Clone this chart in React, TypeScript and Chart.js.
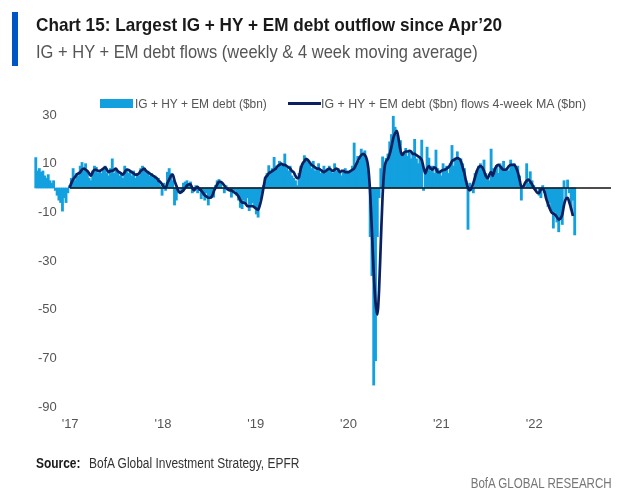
import React, { useEffect, useRef } from "react";
import { Chart, registerables } from "chart.js";

Chart.register(...registerables);

// ---------- DATA ----------
const START_YEAR = 2016.63; // first weekly observation (year fraction)
const WEEK = 7 / 365.25; // one week in years
const MA_START_INDEX = 19; // 4-week MA starts at this week

const yearTicks = [2017, 2018, 2019, 2020, 2021, 2022];
const yTicks = [30, 10, -10, -30, -50, -70, -90];
const zeroLineRange = [2017.0, 2022.83];

const TITLE = "Chart 15: Largest IG + HY + EM debt outflow since Apr’20";
const SUBTITLE = "IG + HY + EM debt flows (weekly & 4 week moving average)";
const BAR_LABEL = "IG + HY + EM debt ($bn)";
const MA_LABEL = "IG + HY + EM debt ($bn) flows 4-week MA ($bn)";
const SOURCE_HEAD = "Source:";
const SOURCE_TEXT = "BofA Global Investment Strategy, EPFR";
const BRAND = "BofA GLOBAL RESEARCH";

// weekly flows ($bn)
const weeklyFlows = [
  // late 2016
  12.5, 7, 8, 6.5, 7, 5, 4, 5.5, 3, 2, 3, -1, -3, -5, -6, -9.5, -4, -6, -2,
  // 2017
  1, 4, 8, 3, 6, 5, 9, 10.5, 7, 10, 6, 4, 3, 7, 9, 8.5, 6, 7, 6, 8, 9, 6, 5, 8, 12, 6, 8, 7, 5, 6, 4, 9, 8, 6,
  7, 5, 7, 4, 6, 5, 8, 9, 8, 6, 7, 5, 6, 4, 5, 3, 4, 1, -3,
  // 2018
  2, -1, 6.5, 8, 6, 3, -7, -5, -2, 0, -2, 2, 2.5, 3, 1, 2.5, -2, 0, 1, -2, -1, -4.4, -3, -5, -2, -7, -4, -2,
  -3.8, 1, 3, 3.5, 2, 0, -2, 1, -1, 0, -3.8, -2, -1, -3,
  -5, -8, -8.5, -5, -6, -4, -9.3, -7, -6, -8, -10.7, -12,
  // 2019
  -5, -2, 1, 4.4, 6, 9.2, 6, 8, 12.6, 9, 8, 11, 9, 10, 14, 8, 7, 9, 5, 4, 3, 1, 6, 9, 10, 13.3, 12, 11, 10, 8,
  11, 7, 8, 10, 6, 7, 9, 6, 8, 9, 7, 6, 10, 7, 8, 6, 5, 7, 8, 6, 7, 6, 9, 18.5, 10, 13, 11, 16, 14, 15.3, 10, 4,
  // 2020
  -20, -36, -81, -71, -20, -4, 8, 12.8, 10, 12.2, 14, 19, 22, 29.5, 25, 21.7, 18, 19.5, 12.8, 14, 16.3, 13,
  15.5, 12, 14, 20, 12, 10, 13, 19.7, -1, 6, 16.8, 12.3, 7, 9, 6, 15.6, 8, 7, 5,
  // 2021
  10, 8, 9, 6, 10, 17.5, 9, 12, 14.9, 11, 12, 10, 8, 3, -17, 2, -1, -2, 6, 7, 9, 10, 8, 11.5, 6, 4, 3, 16, 8,
  5, 9, 6, 10, 9, 11, 7, 8, 7, 11.5, 9, 10, 8, 9, 5, -5, 1, 0, 10, 2, 6.7, 3, 1,
  // 2022
  -1, 0, -3, -4, 1, -2, -3, -7.6, -6, -9, -16.5, -10, -14, -18, -12, -15, 3, -4, 3.3, -2, -9, -5, -19.3,
];

// 4-week moving average ($bn), from week MA_START_INDEX
const movingAverage = [
  // 2017
  0, 2, 3.5, 4.5, 5.5, 6, 6.5, 7.5, 8, 7.5, 7, 6, 5, 6.5, 7.5, 7.5, 7, 7, 7.5, 8, 8.5, 7.5, 6.5, 7, 7, 7.5, 8,
  7, 6.5, 6, 5.5, 6.5, 7.5, 7.5, 7, 6.5, 6, 5.5, 5.5, 6, 7, 7.5, 8, 7, 6.5, 6, 5.5, 5, 4.5, 4, 3, 2.5, 1.5,
  // 2018
  0.5, 0, 2, 3.5, 5, 5.5, 3, 1, -1, -2, -1.5, -1, 0, 1, 1.5, 1.5, 0, -1, 0, 0.5, -0.5, -1, -2, -3, -3.5, -4,
  -4, -3.5, -1.5, 0, 1.5, 2.5, 2.5, 2, 1, 0, -0.5, -1, -1, -1.5, -2, -2.5, -3.5, -5, -6, -6, -6.5, -7.5, -7.5,
  -7.5, -7.5, -8, -8.5, -9,
  // 2019
  -7, -4, 0, 4, 5, 6, 6.5, 7, 7.5, 8, 9, 9.5, 10, 9.5, 9.5, 9, 8.5, 8, 7, 6.5, 5, 4, 4.5, 8, 10, 11, 12, 11.5,
  10.5, 9.5, 9, 8.5, 8, 8, 7.5, 7, 6.5, 7, 7.5, 8, 7.5, 7, 7.5, 8, 7.5, 6.5, 7, 7, 6.5, 6.5, 6.5, 7, 7.5, 8,
  9.5, 11, 12.5, 13.5, 14, 13.5, 12, 8,
  // 2020
  -2, -18, -35, -47, -52, -42, -22, -3, 8, 11, 12, 14, 17, 20.5, 22.5, 23.5, 20, 15.5, 13.5, 14.5, 15, 15,
  15.3, 15, 14, 14, 13.5, 13, 12.5, 11.5, 8.5, 6, 8, 9, 8, 7.5, 8.5, 8, 6.5, 6.5,
  // 2021
  7, 7.4, 7.5, 8, 8.5, 9.5, 11, 11.5, 12, 12.3, 12, 11, 8.5, 6, 2.5, 0, -1, 0, 2, 4.5, 7, 8.5, 9, 8.5, 7, 5,
  4, 5.5, 6.5, 5, 7.5, 9, 9.5, 9, 8, 7.5, 7.5, 8, 9, 9.5, 9.5, 9.5, 8.5, 6.5, 3.5, 0.5, 0.5, 2, 3, 3.5, 2.5,
  1.5,
  // 2022
  0, -1, -2, -2, -0.5, -0.5, -1.5, -4.5, -6.5, -8.5, -10, -10.5, -11, -12, -13, -12.5, -11, -7, -4.5, -4, -6,
  -8.5, -11.5,
];

// ---------- STYLE ----------
const FONT = '"Liberation Sans", Arial, sans-serif';
const LIGHT = "#13a0df";
const NAVY = "#0c1f5e";
const GREY = "#555555";

let measureCtx: CanvasRenderingContext2D | null = null;
function textWidth(text: string, size: number, weight: number): number {
  if (!measureCtx) measureCtx = document.createElement("canvas").getContext("2d");
  if (!measureCtx) return text.length * size * 0.5;
  measureCtx.font = `${weight} ${size}px ${FONT}`;
  return measureCtx.measureText(text).width;
}

// text condensed horizontally to fit a target width (emulates the narrow original face)
function FitText(props: {
  text: string; left?: number; right?: number; top: number; size: number; weight?: number;
  color: string; width: number;
}) {
  const { text, left, right, top, size, weight = 400, color, width } = props;
  const sx = width / textWidth(text, size, weight);
  const style: React.CSSProperties = {
    position: "absolute", top, whiteSpace: "nowrap", fontSize: size, lineHeight: `${size}px`,
    fontWeight: weight, color, transform: `scaleX(${sx})`,
    transformOrigin: right !== undefined ? "right center" : "left center",
  };
  if (right !== undefined) style.right = right; else style.left = left;
  return <div style={style}>{text}</div>;
}

export default function App() {
  const canvasRef = useRef<HTMLCanvasElement | null>(null);

  useEffect(() => {
    const canvas = canvasRef.current;
    if (!canvas) return;
    const barPoints = weeklyFlows.map((v, i) => ({ x: START_YEAR + i * WEEK, y: v }));
    const maPoints = movingAverage.map((v, i) => ({ x: START_YEAR + (i + MA_START_INDEX) * WEEK, y: v }));
    const zeroPoints = zeroLineRange.map((x) => ({ x, y: 0 }));

    const chart = new Chart(canvas, {
      type: "bar",
      data: {
        datasets: [
          {
            type: "line",
            label: MA_LABEL,
            data: maPoints,
            borderColor: NAVY,
            backgroundColor: NAVY,
            borderWidth: 2.7,
            pointRadius: 0,
            cubicInterpolationMode: "monotone",
            order: 1,
          } as any,
          {
            type: "line",
            label: "zero",
            data: zeroPoints,
            borderColor: "#111111",
            borderWidth: 1.5,
            pointRadius: 0,
            order: 2,
          } as any,
          {
            type: "bar",
            label: BAR_LABEL,
            data: barPoints,
            backgroundColor: LIGHT,
            borderWidth: 0,
            barThickness: 2.2,
            order: 3,
          } as any,
        ],
      },
      options: {
        responsive: false,
        animation: false,
        layout: { padding: { left: 33, right: 29, top: 115, bottom: 55 } },
        plugins: { legend: { display: false }, tooltip: { enabled: false } },
        scales: {
          x: {
            type: "linear",
            offset: false,
            min: 2016.6,
            max: 2022.828,
            grid: { display: false, drawTicks: false },
            border: { display: false },
            ticks: {
              autoSkip: false,
              maxRotation: 0,
              padding: 10,
              color: GREY,
              font: { family: FONT, size: 13 },
              callback: (v: any) => "'" + String(v).slice(2),
            },
            afterBuildTicks: (s: any) => {
              s.ticks = yearTicks.map((v) => ({ value: v }));
            },
            afterFit: (s: any) => {
              s.height = 30;
            },
          },
          y: {
            min: -90,
            max: 30,
            z: 1,
            grid: { display: false, drawTicks: false },
            border: { display: false },
            ticks: {
              mirror: true,
              crossAlign: "far",
              padding: 5,
              color: GREY,
              font: { family: FONT, size: 13 },
            },
            afterBuildTicks: (s: any) => {
              s.ticks = yTicks.map((v) => ({ value: v }));
            },
            afterFit: (s: any) => {
              s.width = 0;
            },
          },
        },
      } as any,
    });
    return () => chart.destroy();
  }, []);

  const srcHeadW = textWidth(SOURCE_HEAD, 14, 700);
  const srcTextW = textWidth(SOURCE_TEXT, 14, 400);
  const srcScale = 264 / (srcHeadW + srcTextW + 10);

  return (
    <div style={{ position: "fixed", left: 0, top: 0, width: 640, height: 492, background: "#fff", overflow: "hidden", fontFamily: FONT }}>
      <canvas ref={canvasRef} width={640} height={492} style={{ position: "absolute", left: 0, top: 0, width: 640, height: 492 }} />
      <div style={{ position: "absolute", left: 12, top: 12, width: 6, height: 54, background: "#0055c4" }} />
      <FitText text={TITLE} left={36} top={15} size={19} weight={700} color="#1a1a1a" width={467} />
      <FitText text={SUBTITLE} left={36} top={42} size={19} color={GREY} width={442} />
      {/* legend */}
      <div style={{ position: "absolute", left: 100, top: 99, width: 33, height: 9, background: LIGHT }} />
      <FitText text={BAR_LABEL} left={135} top={97} size={13.5} color={GREY} width={132} />
      <div style={{ position: "absolute", left: 288, top: 102, width: 33, height: 3, background: NAVY }} />
      <FitText text={MA_LABEL} left={321} top={97} size={13.5} color={GREY} width={266} />
      {/* footer */}
      <div
        style={{
          position: "absolute", left: 36, top: 456, whiteSpace: "nowrap", fontSize: 14, lineHeight: "14px",
          color: "#333", transform: `scaleX(${srcScale})`, transformOrigin: "left center",
        }}
      >
        <span style={{ fontWeight: 700, color: "#1a1a1a" }}>{SOURCE_HEAD}</span>
        <span style={{ display: "inline-block", width: 10 }} />
        <span>{SOURCE_TEXT}</span>
      </div>
      <FitText text={BRAND} right={28} top={476} size={14} color="#777777" width={142} />
    </div>
  );
}
